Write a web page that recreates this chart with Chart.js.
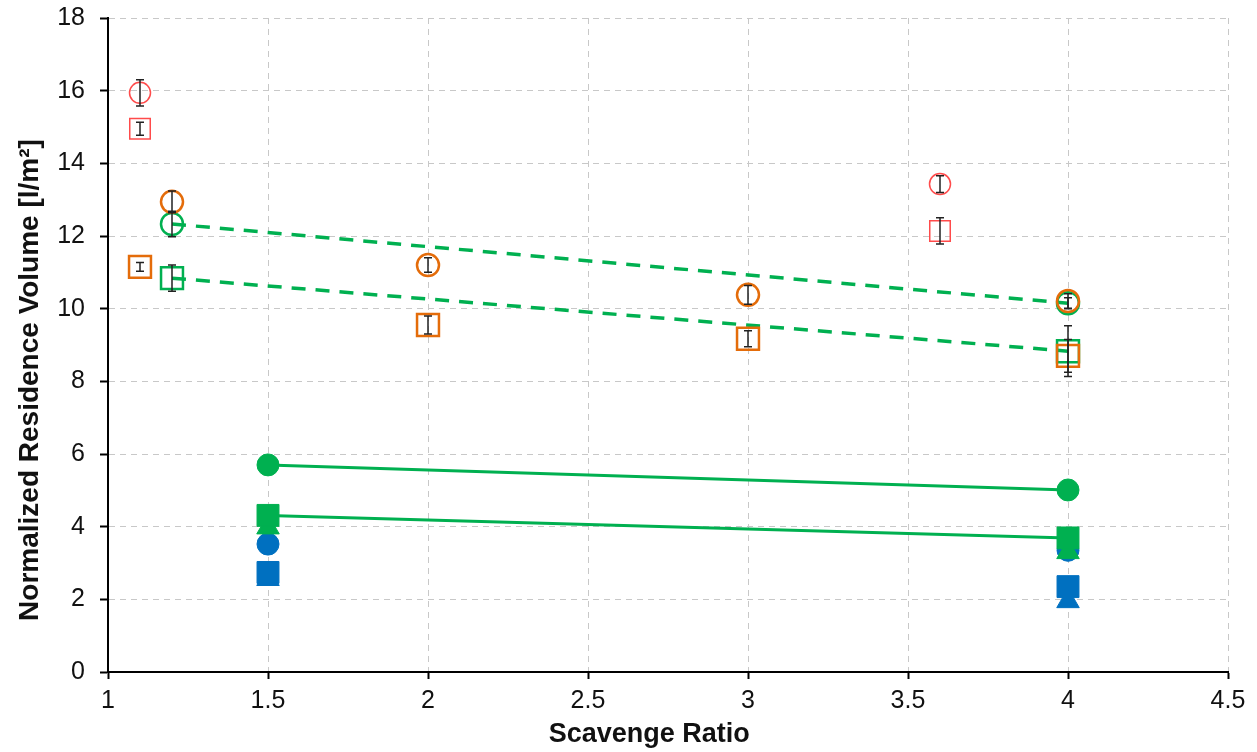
<!DOCTYPE html>
<html>
<head>
<meta charset="utf-8">
<script src="https://cdn.jsdelivr.net/npm/chart.js@4"></script>
<style>
  html, body { margin: 0; padding: 0; background: #fff; }
  #wrap { width: 1257px; height: 752px; }
</style>
</head>
<body>
<div id="wrap"><canvas id="residenceChart" width="1257" height="752"></canvas></div>
<script>
// values
const redCircleX = [1.1, 3.6];
const redCircleY = [15.94, 13.43];
const redCircleErr = [0.36, 0.23];

const redSquareX = [1.1, 3.6];
const redSquareY = [14.95, 12.14];
const redSquareErr = [0.18, 0.36];

const orangeCircleX = [1.2, 2, 3, 4];
const orangeCircleY = [12.94, 11.2, 10.38, 10.21];
const orangeCircleErr = [0.3, 0.2, 0.26, 0.2];

const orangeSquareX = [1.1, 2, 3, 4];
const orangeSquareY = [11.15, 9.55, 9.17, 8.7];
const orangeSquareErr = [0.12, 0.25, 0.22, 0.45];

const greenOpenCircleX = [1.2, 4];
const greenOpenCircleY = [12.33, 10.15];
const greenOpenCircleErr = [0.35, 0.15];

const greenOpenSquareX = [1.2, 4];
const greenOpenSquareY = [10.84, 8.83];
const greenOpenSquareErr = [0.36, 0.7];

const filledX = [1.5, 4];
const greenCircleY = [5.7, 5.01];
const greenSquareY = [4.31, 3.69];
const greenTriangleY = [3.98, 3.3];
const blueCircleY = [3.52, 3.35];
const blueSquareY = [2.74, 2.35];
const blueTriangleY = [2.56, 1.95];

const xTicks = [1, 1.5, 2, 2.5, 3, 3.5, 4, 4.5];
const yTicks = [0, 2, 4, 6, 8, 10, 12, 14, 16, 18];

const RED = '#ff4b4b';
const ORANGE = '#e46c0a';
const GREEN = '#00b050';
const BLUE = '#0070c0';

function pts(xs, ys) {
    return xs.map((x, i) => ({ x: x, y: ys[i] }));
}

// vertical error bars drawn through the scales
const errorBars = {
    id: 'errorBars',
    afterDatasetsDraw(chart) {
        const ctx = chart.ctx;
        const xs = chart.scales.x;
        const ys = chart.scales.y;
        ctx.save();
        ctx.strokeStyle = '#222';
        ctx.lineWidth = 1.5;
        chart.data.datasets.forEach(ds => {
            if (!ds.errs) return;
            ds.data.forEach((p, i) => {
                const px = xs.getPixelForValue(p.x);
                const top = ys.getPixelForValue(p.y + ds.errs[i]);
                const bot = ys.getPixelForValue(p.y - ds.errs[i]);
                ctx.beginPath();
                ctx.moveTo(px, top); ctx.lineTo(px, bot);
                ctx.moveTo(px - 4, top); ctx.lineTo(px + 4, top);
                ctx.moveTo(px - 4, bot); ctx.lineTo(px + 4, bot);
                ctx.stroke();
            });
        });
        ctx.restore();
    }
};

function hollow(label, xs, ys, errs, color, style, radius, width, order) {
    return {
        label: label,
        data: pts(xs, ys),
        errs: errs,
        pointStyle: style,
        pointRadius: radius,
        pointHoverRadius: radius,
        pointBorderColor: color,
        pointBackgroundColor: 'rgba(0,0,0,0)',
        pointBorderWidth: width,
        showLine: false,
        order: order
    };
}

function filled(label, ys, color, style, radius, line, order) {
    return {
        label: label,
        data: pts(filledX, ys),
        pointStyle: style,
        pointRadius: radius,
        pointHoverRadius: radius,
        pointBorderColor: color,
        pointBackgroundColor: color,
        pointBorderWidth: 1,
        borderColor: color,
        borderWidth: 3,
        showLine: line,
        order: order
    };
}

const greenOpenCircles = hollow('Green open circle', greenOpenCircleX, greenOpenCircleY, greenOpenCircleErr, GREEN, 'circle', 11, 2.5, 6);
greenOpenCircles.showLine = true;
greenOpenCircles.borderColor = GREEN;
greenOpenCircles.borderWidth = 3.5;
greenOpenCircles.borderDash = [14, 10];

const greenOpenSquares = hollow('Green open square', greenOpenSquareX, greenOpenSquareY, greenOpenSquareErr, GREEN, 'rect', 15.5, 2.5, 6);
greenOpenSquares.showLine = true;
greenOpenSquares.borderColor = GREEN;
greenOpenSquares.borderWidth = 3.5;
greenOpenSquares.borderDash = [14, 10];

const pad = n => '\u00a0'.repeat(n);

const ctx = document.getElementById('residenceChart').getContext('2d');
new Chart(ctx, {
    type: 'scatter',
    data: {
        datasets: [
            hollow('Red circle', redCircleX, redCircleY, redCircleErr, RED, 'circle', 10.5, 1.5, 5),
            hollow('Red square', redSquareX, redSquareY, redSquareErr, RED, 'rect', 14.5, 1.5, 5),
            hollow('Orange circle', orangeCircleX, orangeCircleY, orangeCircleErr, ORANGE, 'circle', 11, 2.5, 5),
            hollow('Orange square', orangeSquareX, orangeSquareY, orangeSquareErr, ORANGE, 'rect', 15.5, 2.5, 5),
            greenOpenCircles,
            greenOpenSquares,
            filled('Green circle', greenCircleY, GREEN, 'circle', 11, true, 1),
            filled('Green square', greenSquareY, GREEN, 'rect', 15.5, true, 2),
            filled('Green triangle', greenTriangleY, GREEN, 'triangle', 13, false, 3),
            filled('Blue circle', blueCircleY, BLUE, 'circle', 11, false, 4),
            filled('Blue square', blueSquareY, BLUE, 'rect', 15.5, false, 7),
            filled('Blue triangle', blueTriangleY, BLUE, 'triangle', 13, false, 8)
        ]
    },
    options: {
        responsive: false,
        animation: false,
        layout: { padding: { top: 17, right: 29, left: 0, bottom: 0 } },
        plugins: {
            legend: { display: false },
            tooltip: { enabled: false }
        },
        scales: {
            x: {
                type: 'linear',
                min: 1,
                max: 4.5,
                afterBuildTicks(axis) { axis.ticks = xTicks.map(v => ({ value: v })); },
                afterFit(axis) { axis.height = 80; },
                border: { color: '#000', width: 2, dash: [6, 5] },
                grid: {
                    color: '#c8c8c8',
                    lineWidth: 1,
                    tickLength: 7,
                    tickColor: '#000',
                    tickWidth: 2
                },
                ticks: {
                    color: '#111',
                    font: { family: 'Liberation Sans, Arial', size: 25 },
                    padding: 7,
                    maxRotation: 0,
                    callback: v => String(v)
                },
                title: {
                    display: true,
                    text: 'Scavenge Ratio' + pad(5),
                    color: '#111',
                    font: { family: 'Liberation Sans, Arial', size: 27, weight: 'bold' },
                    padding: { top: 0, bottom: 1 }
                }
            },
            y: {
                type: 'linear',
                min: 0,
                max: 18,
                afterBuildTicks(axis) { axis.ticks = yTicks.map(v => ({ value: v })); },
                afterFit(axis) {
                    axis.width = 108;
                    axis.paddingTop = 0;
                    axis.paddingBottom = 0;
                },
                border: { color: '#000', width: 2, dash: [6, 5] },
                grid: {
                    color: '#c8c8c8',
                    lineWidth: 1,
                    tickLength: 8,
                    tickColor: '#000',
                    tickWidth: 2
                },
                ticks: {
                    color: '#111',
                    font: { family: 'Liberation Sans, Arial', size: 25 },
                    padding: 15
                },
                title: {
                    display: true,
                    text: 'Normalized Residence Volume [l/m\u00b2]' + pad(9),
                    color: '#111',
                    font: { family: 'Liberation Sans, Arial', size: 28, weight: 'bold' },
                    padding: { top: 13, bottom: 4 }
                }
            }
        }
    },
    plugins: [errorBars]
});
</script>
</body>
</html>
